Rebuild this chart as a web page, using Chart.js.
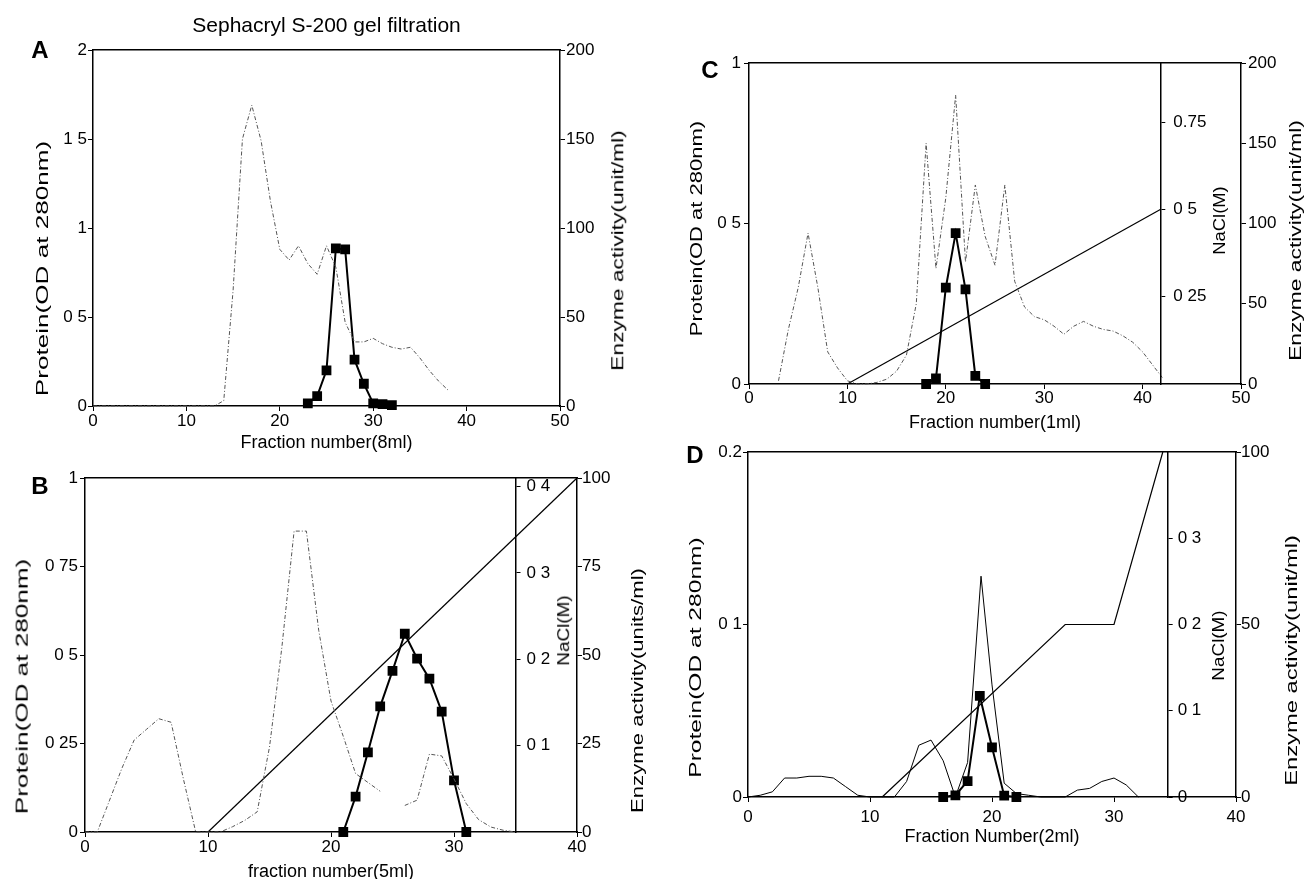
<!DOCTYPE html>
<html>
<head>
<meta charset="utf-8">
<title>Chromatography profiles</title>
<script src="https://cdn.jsdelivr.net/npm/chart.js@4.4.1/dist/chart.umd.min.js"></script>
<style>
  html, body { margin: 0; padding: 0; background: #fff; overflow: hidden; }
  body { width: 1307px; height: 879px; position: relative; font-family: "Liberation Sans", Arial, sans-serif; color: #000; }
  canvas { position: absolute; }
  .letter { position: absolute; font-weight: bold; font-size: 24px; transform: translate(-50%, -50%); }
  .vtitle { position: absolute; left: 0; top: 0; font-size: 17px; white-space: nowrap; line-height: 1; }
</style>
</head>
<body>
<canvas id="chartA" width="650" height="458" style="left:0px;top:0px"></canvas>
<canvas id="chartB" width="660" height="430" style="left:0px;top:460px"></canvas>
<canvas id="saltB" width="660" height="430" style="left:0px;top:460px"></canvas>
<canvas id="chartC" width="657" height="440" style="left:650px;top:0px"></canvas>
<canvas id="saltC" width="657" height="440" style="left:650px;top:0px"></canvas>
<canvas id="chartD" width="657" height="455" style="left:650px;top:435px"></canvas>
<canvas id="saltD" width="657" height="455" style="left:650px;top:435px"></canvas>
<div class="letter" style="left:40px;top:50px">A</div>
<div class="letter" style="left:40px;top:486px">B</div>
<div class="letter" style="left:710px;top:70px">C</div>
<div class="letter" style="left:695px;top:455px">D</div>
<script>
// A - Sephacryl S-200 gel filtration
const aProteinX = [0, 4, 8, 13, 14, 15, 16, 17, 18, 19, 20, 21, 22, 23, 24, 25, 26, 27, 28, 29, 30, 31, 32, 33, 34, 35, 36, 37, 38];
const aProteinY = [0, 0, 0, 0, 0.03, 0.65, 1.5, 1.69, 1.49, 1.15, 0.88, 0.82, 0.9, 0.8, 0.74, 0.9, 0.78, 0.47, 0.36, 0.36, 0.38, 0.35, 0.33, 0.32, 0.33, 0.27, 0.2, 0.14, 0.09];
const aEnzymeX = [23, 24, 25, 26, 27, 28, 29, 30, 31, 32];
const aEnzymeY = [1.5, 5.5, 20, 88.5, 88, 26, 12.5, 1.5, 1, 0.5];
const aXTicks = [0, 10, 20, 30, 40, 50];
const aProteinTicks = [0, 0.5, 1, 1.5, 2];
const aProteinLabels = ['0', '0 5', '1', '1 5', '2'];
const aEnzymeTicks = [0, 50, 100, 150, 200];

// B
const bProteinX = [0, 1, 2, 3, 4, 5, 6, 7, 8, 9, 10, 11, 12, 13, 14, 15, 16, 17, 18, 19, 20, 21, 22, 23, 24, 25, 26, 27, 28, 29, 30, 31, 32, 33, 34, 35];
const bProteinY = [0, 0, 0.09, 0.18, 0.26, 0.29, 0.32, 0.31, 0.15, 0, 0, 0, 0.015, 0.033, 0.057, 0.24, 0.52, 0.85, 0.85, 0.57, 0.37, 0.27, 0.165, 0.14, 0.115, null, 0.075, 0.09, 0.22, 0.215, 0.15, 0.08, 0.035, 0.014, 0.005, 0];
const bEnzymeX = [21, 22, 23, 24, 25, 26, 27, 28, 29, 30, 31];
const bEnzymeY = [0, 10, 22.5, 35.5, 45.5, 56, 49, 43.3, 34, 14.6, 0];
const bSaltX = [10, 40];
const bSaltY = [0, 0.41];
const bXTicks = [0, 10, 20, 30, 40];
const bProteinTicks = [0, 0.25, 0.5, 0.75, 1];
const bProteinLabels = ['0', '0 25', '0 5', '0 75', '1'];
const bEnzymeTicks = [0, 25, 50, 75, 100];
const bSaltTicks = [0.1, 0.2, 0.3, 0.4];
const bSaltLabels = ['0 1', '0 2', '0 3', '0 4'];

// C
const cProteinX = [3, 4, 5, 6, 7, 8, 9, 10, 11, 12, 13, 14, 15, 16, 17, 18, 19, 20, 21, 22, 23, 24, 25, 26, 27, 28, 29, 30, 31, 32, 33, 34, 35, 36, 37, 38, 39, 40, 41, 42];
const cProteinY = [0.01, 0.17, 0.3, 0.47, 0.3, 0.1, 0.05, 0.01, 0, 0, 0.005, 0.015, 0.04, 0.09, 0.25, 0.75, 0.36, 0.58, 0.9, 0.38, 0.62, 0.46, 0.37, 0.62, 0.32, 0.24, 0.21, 0.2, 0.18, 0.155, 0.18, 0.195, 0.18, 0.17, 0.165, 0.15, 0.13, 0.1, 0.06, 0.02];
const cEnzymeX = [18, 19, 20, 21, 22, 23, 24];
const cEnzymeY = [0, 3.5, 60, 94, 59, 5, 0];
const cSaltX = [10, 41.8];
const cSaltY = [0, 0.5];
const cXTicks = [0, 10, 20, 30, 40, 50];
const cProteinTicks = [0, 0.5, 1];
const cProteinLabels = ['0', '0 5', '1'];
const cEnzymeTicks = [0, 50, 100, 150, 200];
const cSaltTicks = [0.25, 0.5, 0.75];
const cSaltLabels = ['0 25', '0 5', '0.75'];

// D
const dProteinX = [0, 1, 2, 3, 4, 5, 6, 7, 8, 9, 10, 11, 12, 13, 14, 15, 16, 17, 18, 19.1, 20, 21, 22, 23, 24, 25, 26, 27, 28, 29, 30, 31, 32];
const dProteinY = [0, 0.001, 0.003, 0.011, 0.011, 0.012, 0.012, 0.011, 0.006, 0.001, 0, 0, 0, 0.009, 0.03, 0.033, 0.021, 0, 0.02, 0.128, 0.065, 0.008, 0.002, 0.001, 0, 0, 0, 0.004, 0.005, 0.009, 0.011, 0.007, 0];
const dEnzymeX = [16, 17, 18, 19, 20, 21, 22];
const dEnzymeY = [0, 0.5, 4.6, 29.3, 14.4, 0.4, 0];
const dSaltX = [11, 26, 30, 34];
const dSaltY = [0, 0.2, 0.2, 0.4];
const dXTicks = [0, 10, 20, 30, 40];
const dProteinTicks = [0, 0.1, 0.2];
const dProteinLabels = ['0', '0 1', '0.2'];
const dEnzymeTicks = [0, 50, 100];
const dSaltTicks = [0, 0.1, 0.2, 0.3];
const dSaltLabels = ['0', '0 1', '0 2', '0 3'];

Chart.defaults.font.family = "'Liberation Sans', Arial, sans-serif";
Chart.defaults.color = '#000';

const tickFont = { size: 17 };
const axisLine = { color: '#000', width: 1.5 };

function pts(xs, ys) {
  return xs.map((x, i) => ({ x: x, y: ys[i] }));
}

function proteinSet(xs, ys, solid) {
  return {
    data: pts(xs, ys), yAxisID: 'yP', borderColor: solid ? '#000' : '#555',
    borderWidth: 1, borderDash: solid ? [] : [4, 2, 1, 2], pointRadius: 0, spanGaps: false, clip: false
  };
}

function enzymeSet(xs, ys) {
  return {
    data: pts(xs, ys), yAxisID: 'yE', borderColor: '#000', borderWidth: 2,
    pointStyle: 'rect', pointRadius: 5.5, pointBackgroundColor: '#000', pointBorderColor: '#000', clip: false
  };
}

function saltSet(xs, ys) {
  return { data: pts(xs, ys), yAxisID: 'yN', borderColor: '#000', borderWidth: 1.2, pointRadius: 0, clip: false };
}

function fixed(values, labels) {
  return {
    afterBuildTicks: s => { s.ticks = values.map(v => ({ value: v })); },
    callback: (v, i) => labels ? labels[i] : String(values[i])
  };
}

const baseOptions = (top, pad) => ({
  responsive: false, animation: false, devicePixelRatio: 1,
  layout: { padding: pad || { top: top, left: 0, right: 0, bottom: 0 } },
  plugins: { legend: { display: false }, tooltip: { enabled: false } }
});

function makePanel(id, p) {
  const xt = fixed(p.xTicks), pt = fixed(p.pTicks, p.pLabels), et = fixed(p.eTicks);
  const scales = {
    x: {
      type: 'linear', position: 'bottom', min: 0, max: p.xMax,
      afterBuildTicks: xt.afterBuildTicks, afterFit: s => { s.height = p.xHeight; },
      grid: { drawOnChartArea: false, tickLength: 5, color: '#000' }, border: axisLine,
      ticks: { font: tickFont, padding: p.xPad, autoSkip: false, maxRotation: 0, callback: xt.callback },
      title: { display: true, text: p.xTitle, font: { size: 18 }, padding: { top: 0, bottom: p.xTitlePad } }
    },
    xTop: {
      type: 'linear', position: 'top', min: 0, max: p.xMax,
      grid: { display: false, drawTicks: false }, ticks: { display: false }, border: axisLine,
      afterFit: s => { s.height = 0; }
    },
    yP: {
      type: 'linear', position: 'left', min: 0, max: p.pTicks[p.pTicks.length - 1],
      afterBuildTicks: pt.afterBuildTicks, afterFit: s => { s.width = p.leftW; },
      grid: { drawOnChartArea: false, tickLength: 5, color: '#000' }, border: axisLine,
      ticks: { font: tickFont, padding: p.leftPad, callback: pt.callback }
    },
    yE: {
      type: 'linear', position: 'right', min: 0, max: p.eTicks[p.eTicks.length - 1],
      afterBuildTicks: et.afterBuildTicks, afterFit: s => { s.width = p.rightW; },
      grid: { drawOnChartArea: false, tickLength: 5, color: '#000' }, border: axisLine,
      ticks: { font: tickFont, padding: p.rightPad, callback: et.callback }
    }
  };
  if (p.nTicks) {
    scales.yN = { type: 'linear', display: false, min: 0, max: p.nMax };
  }
  const options = baseOptions(p.top);
  options.plugins.title = p.title || { display: false };
  options.scales = scales;
  new Chart(document.getElementById(id), { type: 'line', data: { datasets: p.datasets }, options: options });

  // NaCl axis sits inside the plot, at x = nAt; drawn as the right axis of an overlay chart
  if (p.nTicks) {
    const canvas = document.getElementById(p.saltId);
    const plotW = canvas.width - p.leftW - p.rightW;
    const axisPx = p.leftW + p.nAt / p.xMax * plotW;
    const axisW = 64;
    const nt = fixed(p.nTicks, p.nLabels);
    const saltOptions = baseOptions(0, {
      top: p.top, bottom: p.xHeight, left: p.leftW, right: canvas.width - axisPx - axisW
    });
    saltOptions.scales = {
      x: { type: 'linear', display: false, min: 0, max: p.nAt },
      yN: {
        type: 'linear', position: 'right', min: 0, max: p.nMax,
        afterBuildTicks: nt.afterBuildTicks, afterFit: s => { s.width = axisW; },
        grid: { drawOnChartArea: false, tickLength: 5, color: '#000' }, border: axisLine,
        ticks: { font: tickFont, padding: p.nPad, callback: nt.callback }
      }
    };
    new Chart(canvas, { type: 'line', data: { datasets: [] }, options: saltOptions });
  }
}

makePanel('chartA', {
  xMax: 50, xTicks: aXTicks, xTitle: 'Fraction number(8ml)', xHeight: 52, xPad: 0, xTitlePad: 4,
  pTicks: aProteinTicks, pLabels: aProteinLabels, eTicks: aEnzymeTicks,
  leftW: 93, leftPad: 1, rightW: 90, rightPad: 1, top: 0,
  title: { display: true, text: 'Sephacryl S-200 gel filtration', fullSize: false, font: { size: 21, weight: 'normal' }, padding: { top: 14, bottom: 10.8 } },
  datasets: [proteinSet(aProteinX, aProteinY), enzymeSet(aEnzymeX, aEnzymeY)]
});

makePanel('chartB', {
  xMax: 40, xTicks: bXTicks, xTitle: 'fraction number(5ml)', xHeight: 58, xPad: 0, xTitlePad: 7,
  pTicks: bProteinTicks, pLabels: bProteinLabels, eTicks: bEnzymeTicks,
  leftW: 85, leftPad: 2, rightW: 83, rightPad: 0, top: 18,
  saltId: 'saltB', nTicks: bSaltTicks, nLabels: bSaltLabels, nAt: 35, nMax: 0.41, nPad: 6,
  datasets: [proteinSet(bProteinX, bProteinY), saltSet(bSaltX, bSaltY), enzymeSet(bEnzymeX, bEnzymeY)]
});

makePanel('chartC', {
  xMax: 50, xTicks: cXTicks, xTitle: 'Fraction number(1ml)', xHeight: 56, xPad: -1, xTitlePad: 6,
  pTicks: cProteinTicks, pLabels: cProteinLabels, eTicks: cEnzymeTicks,
  leftW: 99, leftPad: 3, rightW: 66, rightPad: 2, top: 63,
  saltId: 'saltC', nTicks: cSaltTicks, nLabels: cSaltLabels, nAt: 41.8, nMax: 0.92, nPad: 8,
  datasets: [proteinSet(cProteinX, cProteinY), saltSet(cSaltX, cSaltY), enzymeSet(cEnzymeX, cEnzymeY)]
});

makePanel('chartD', {
  xMax: 40, xTicks: dXTicks, xTitle: 'Fraction Number(2ml)', xHeight: 93, xPad: 5, xTitlePad: 42,
  pTicks: dProteinTicks, pLabels: dProteinLabels, eTicks: dEnzymeTicks,
  leftW: 98, leftPad: 1, rightW: 71, rightPad: 0, top: 17,
  saltId: 'saltD', nTicks: dSaltTicks, nLabels: dSaltLabels, nAt: 34.4, nMax: 0.4, nPad: 5,
  datasets: [proteinSet(dProteinX, dProteinY, true), saltSet(dSaltX, dSaltY), enzymeSet(dEnzymeX, dEnzymeY)]
});

// rotated axis titles (read bottom to top): text, centre x, centre y, length
const vTitles = [
  ['Protein(OD at 280nm)', 42, 268, 255],
  ['Enzyme activity(unit/ml)', 617, 250, 240],
  ['Protein(OD at 280nm)', 22, 686, 255],
  ['NaCl(M)', 563, 630, 70],
  ['Enzyme activity(units/ml)', 638, 690, 245],
  ['Protein(OD at 280nm)', 696, 228, 215],
  ['NaCl(M)', 1219, 220, 68],
  ['Enzyme activity(unit/ml)', 1295, 240, 240],
  ['Protein(OD at 280nm)', 695, 657, 240],
  ['NaCl(M)', 1218, 645, 70],
  ['Enzyme activity(unit/ml)', 1291, 660, 250]
];

vTitles.forEach(([text, cx, cy, len]) => {
  const d = document.createElement('div');
  d.className = 'vtitle';
  d.textContent = text;
  document.body.appendChild(d);
  const w = d.offsetWidth, h = d.offsetHeight;
  const sx = len ? len / w : 1;
  d.style.left = (cx - w / 2) + 'px';
  d.style.top = (cy - h / 2) + 'px';
  d.style.transform = 'rotate(-90deg) scaleX(' + sx.toFixed(3) + ')';
});
</script>
</body>
</html>
